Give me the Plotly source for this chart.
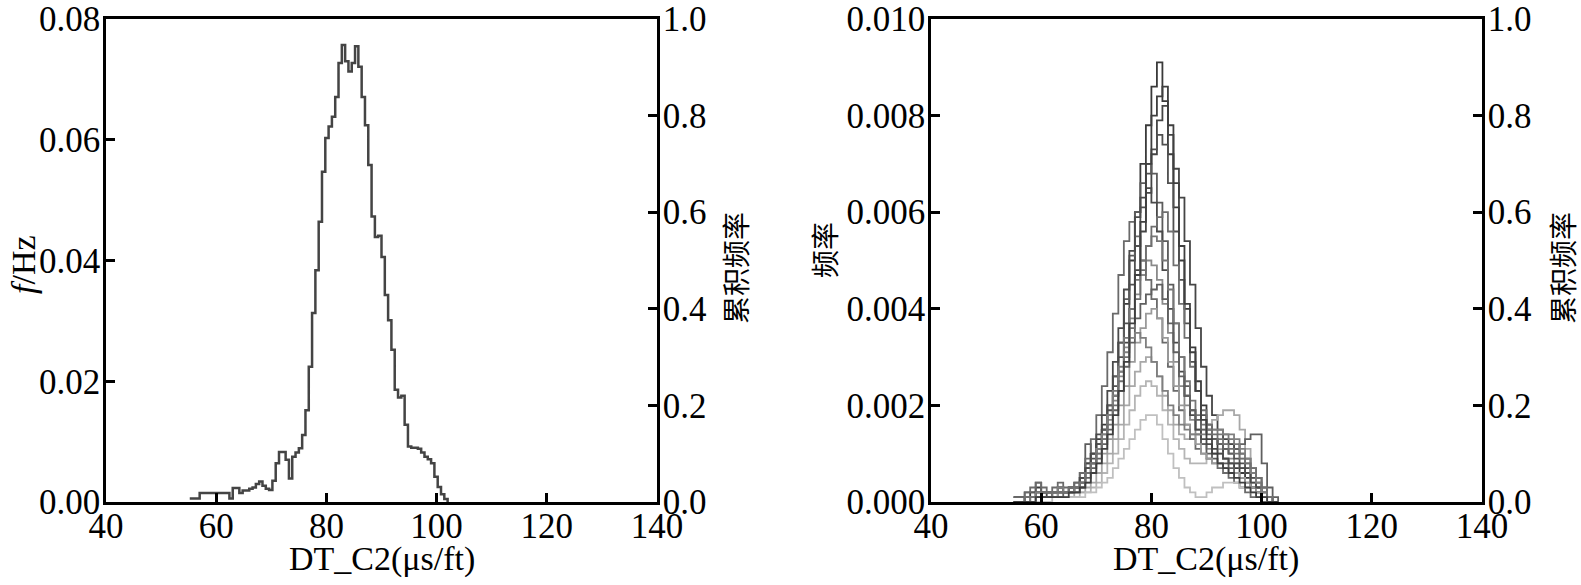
import plotly.graph_objects as go

# left panel: single step histogram (bin left edges, frequency)
left_bins = [55.2, 55.8, 56.4, 57.0, 57.6, 58.2, 58.8, 59.4, 60.0, 60.6,
             61.2, 61.8, 62.4, 63.0, 63.6, 64.2, 64.8, 65.4, 66.0, 66.6,
             67.2, 67.8, 68.4, 69.0, 69.6, 70.2, 70.8, 71.4, 72.0, 72.6,
             73.2, 73.8, 74.4, 75.0, 75.6, 76.2, 76.8, 77.4, 78.0, 78.6,
             79.2, 79.8, 80.4, 81.0, 81.6, 82.2, 82.8, 83.4, 84.0, 84.6,
             85.2, 85.8, 86.4, 87.0, 87.6, 88.2, 88.8, 89.4, 90.0, 90.6,
             91.2, 91.8, 92.4, 93.0, 93.6, 94.2, 94.8, 95.4, 96.0, 96.6,
             97.2, 97.8, 98.4, 99.0, 99.6, 100.2, 100.8, 101.4, 102.0]
left_freq = [0.0006, 0.0006, 0.0006, 0.0015, 0.0015, 0.0015, 0.0015, 0.0015, 0.0015, 0.0015,
             0.0015, 0.0015, 0.0006, 0.0023, 0.0023, 0.0015, 0.0019, 0.0019, 0.0022, 0.0024,
             0.0030, 0.0034, 0.0027, 0.0022, 0.0020, 0.0035, 0.0064, 0.0083, 0.0083, 0.0070,
             0.0039, 0.0075, 0.0082, 0.0089, 0.0111, 0.0152, 0.0224, 0.0313, 0.0384, 0.0464,
             0.0547, 0.0603, 0.0622, 0.0638, 0.0671, 0.0727, 0.0757, 0.0730, 0.0713, 0.0727,
             0.0755, 0.0721, 0.0671, 0.0624, 0.0558, 0.0473, 0.0439, 0.0441, 0.0406, 0.0343,
             0.0301, 0.0252, 0.0186, 0.0173, 0.0176, 0.0128, 0.0092, 0.0090, 0.0090, 0.0088,
             0.0082, 0.0075, 0.0071, 0.0064, 0.0042, 0.0025, 0.0013, 0.0005, 0.0]

# right panel: many wells, bins of 1 us/ft starting at 55; values in units of 1e-3
right_bins = [55, 56, 57, 58, 59, 60, 61, 62, 63, 64, 65, 66, 67, 68, 69, 70, 71,
              72, 73, 74, 75, 76, 77, 78, 79, 80, 81, 82, 83, 84, 85, 86, 87, 88,
              89, 90, 91, 92, 93, 94, 95, 96, 97, 98, 99, 100, 101, 102, 103]
wells = [
    ("#3a3a3a", [0.1, 0.1, 0.1, 0.2, 0.3, 0.2, 0.2, 0.2, 0.3, 0.2, 0.2, 0.3, 0.5, 0.8, 1.0, 1.3, 1.6, 2.0, 2.6, 3.3,
                 4.1, 5.0, 6.0, 7.0, 7.8, 8.6, 9.1, 8.3, 7.2, 6.1, 5.0, 4.0, 3.2, 2.5, 2.0, 1.6, 1.3, 1.1, 0.9, 0.8,
                 0.7, 0.6, 0.5, 0.3, 0.2, 0.1, 0, 0, 0]),
    ("#b5b5b5", [0, 0, 0, 0, 0, 0.1, 0.1, 0.1, 0.1, 0.1, 0.1, 0.1, 0.2, 0.2, 0.3, 0.4, 0.6, 0.8, 1.0, 1.3,
                 1.6, 1.9, 2.2, 2.4, 2.5, 2.4, 2.2, 1.9, 1.6, 1.3, 1.1, 0.9, 0.8, 0.8, 0.8, 0.9, 1.0, 1.1, 1.2, 1.2,
                 1.1, 0.9, 0.7, 0.5, 0.3, 0.1, 0, 0, 0]),
    ("#454545", [0, 0, 0.1, 0.1, 0.2, 0.2, 0.1, 0.2, 0.2, 0.2, 0.3, 0.4, 0.6, 0.8, 1.0, 1.2, 1.5, 1.8, 2.2, 2.7,
                 3.3, 4.0, 4.8, 5.6, 6.4, 7.2, 7.9, 8.2, 7.6, 6.9, 6.3, 5.4, 4.5, 3.6, 2.8, 2.2, 1.8, 1.5, 1.3, 1.2,
                 1.1, 1.0, 0.9, 0.7, 0.5, 0.3, 0.1, 0, 0]),
    ("#8a8a8a", [0, 0, 0.1, 0.1, 0.2, 0.2, 0.2, 0.2, 0.2, 0.2, 0.3, 0.3, 0.4, 0.6, 0.8, 1.0, 1.3, 1.7, 2.1, 2.6,
                 3.2, 3.8, 4.3, 4.7, 5.0, 4.9, 4.6, 4.1, 3.5, 2.9, 2.4, 2.0, 1.7, 1.4, 1.2, 1.1, 1.0, 1.0, 0.9, 0.9,
                 0.8, 0.7, 0.6, 0.4, 0.3, 0.1, 0, 0, 0]),
    ("#505050", [0, 0, 0, 0.1, 0.1, 0.2, 0.2, 0.1, 0.2, 0.2, 0.3, 0.3, 0.5, 0.7, 0.9, 1.2, 1.5, 1.9, 2.4, 3.0,
                 3.7, 4.5, 5.3, 6.1, 6.8, 7.3, 7.6, 7.4, 6.6, 5.6, 4.6, 3.7, 2.9, 2.3, 1.8, 1.5, 1.3, 1.2, 1.1, 1.0,
                 0.9, 0.8, 0.7, 0.5, 0.3, 0.2, 0.1, 0, 0]),
    ("#a8a8a8", [0, 0, 0, 0, 0.1, 0.1, 0.1, 0.1, 0.1, 0.1, 0.1, 0.2, 0.2, 0.3, 0.4, 0.6, 0.8, 1.0, 1.3, 1.6,
                 2.0, 2.4, 2.7, 2.9, 3.0, 2.9, 2.6, 2.2, 1.9, 1.6, 1.4, 1.3, 1.3, 1.4, 1.5, 1.6, 1.7, 1.8, 1.9, 1.9,
                 1.8, 1.5, 1.1, 0.7, 0.4, 0.2, 0.1, 0, 0]),
    ("#5c5c5c", [0.1, 0.1, 0.2, 0.2, 0.4, 0.2, 0.2, 0.2, 0.3, 0.2, 0.2, 0.3, 0.4, 1.2, 0.8, 1.1, 1.5, 2.0, 2.6, 3.3,
                 4.2, 5.1, 6.0, 6.6, 7.0, 6.8, 6.2, 5.4, 4.5, 3.7, 3.0, 2.4, 1.9, 1.5, 1.2, 1.0, 0.9, 0.8, 0.8, 0.7,
                 0.6, 0.5, 0.4, 0.3, 0.2, 0.1, 0, 0, 0]),
    ("#6a6a6a", [0.1, 0.1, 0.2, 0.3, 0.4, 0.3, 0.2, 0.3, 0.4, 0.3, 0.3, 0.4, 0.6, 0.9, 1.3, 1.8, 2.4, 3.1, 3.9, 4.7,
                 5.4, 5.8, 5.5, 5.0, 4.6, 4.2, 3.8, 3.3, 2.8, 2.3, 1.9, 1.6, 1.3, 1.1, 1.0, 0.9, 0.8, 0.7, 0.6, 0.5,
                 0.4, 0.3, 0.2, 0.1, 0.1, 0, 0, 0, 0]),
    ("#9a9a9a", [0, 0, 0, 0.1, 0.1, 0.1, 0.1, 0.1, 0.2, 0.2, 0.2, 0.2, 0.3, 0.4, 0.6, 0.8, 1.0, 1.3, 1.6, 2.0,
                 2.4, 2.9, 3.3, 3.6, 3.9, 4.0, 3.8, 3.4, 2.9, 2.4, 2.0, 1.6, 1.4, 1.2, 1.0, 0.9, 0.8, 0.8, 0.7, 0.6,
                 0.6, 0.5, 0.4, 0.3, 0.2, 0.1, 0, 0, 0]),
    ("#4a4a4a", [0, 0, 0.1, 0.1, 0.2, 0.2, 0.2, 0.2, 0.2, 0.2, 0.2, 0.3, 0.5, 0.7, 1.0, 1.4, 1.8, 2.3, 2.9, 3.6,
                 4.4, 5.2, 5.9, 6.3, 6.5, 6.2, 5.6, 4.8, 4.0, 3.3, 2.7, 2.2, 1.8, 1.5, 1.3, 1.2, 1.1, 1.0, 0.9, 0.8,
                 0.8, 0.7, 0.6, 0.4, 0.3, 0.1, 0, 0, 0]),
    ("#c0c0c0", [0, 0, 0, 0, 0, 0, 0, 0.1, 0.1, 0.1, 0.1, 0.1, 0.1, 0.2, 0.2, 0.3, 0.4, 0.5, 0.7, 0.9,
                 1.1, 1.3, 1.5, 1.7, 1.8, 1.8, 1.6, 1.3, 1.0, 0.7, 0.5, 0.3, 0.2, 0.1, 0.1, 0.2, 0.3, 0.3, 0.4, 0.4,
                 0.4, 0.3, 0.3, 0.2, 0.1, 0.1, 0, 0, 0]),
    ("#777777", [0, 0, 0, 0.1, 0.1, 0.1, 0.1, 0.2, 0.2, 0.2, 0.2, 0.3, 0.4, 0.6, 0.8, 1.1, 1.4, 1.8, 2.3, 2.8,
                 3.4, 4.0, 4.6, 5.0, 5.3, 5.5, 5.4, 5.0, 4.4, 3.7, 3.0, 2.5, 2.1, 1.8, 1.6, 1.5, 1.5, 1.4, 1.4, 1.3,
                 1.2, 1.0, 0.8, 0.6, 0.4, 0.2, 0.1, 0, 0]),
    ("#606060", [0, 0, 0, 0, 0.1, 0.1, 0.1, 0.1, 0.1, 0.2, 0.2, 0.2, 0.3, 0.5, 0.7, 0.9, 1.2, 1.5, 1.9, 2.3,
                 2.8, 3.3, 3.8, 4.1, 4.3, 4.4, 4.5, 4.2, 3.7, 3.1, 2.6, 2.2, 1.9, 1.7, 1.5, 1.4, 1.3, 1.2, 1.1, 1.0,
                 1.1, 1.2, 1.3, 1.4, 1.4, 0.8, 0.3, 0.1, 0]),
    ("#7f7f7f", [0, 0, 0.1, 0.1, 0.2, 0.2, 0.2, 0.2, 0.3, 0.2, 0.2, 0.3, 0.4, 0.6, 0.8, 1.1, 1.4, 1.8, 2.2, 2.7,
                 3.1, 3.4, 3.5, 3.4, 3.2, 2.9, 2.6, 2.3, 2.0, 1.8, 1.6, 1.5, 1.4, 1.4, 1.4, 1.5, 1.5, 1.5, 1.4, 1.4,
                 1.3, 1.1, 0.9, 0.6, 0.4, 0.2, 0.1, 0, 0]),
    ("#707070", [0, 0, 0.1, 0.1, 0.1, 0.2, 0.2, 0.2, 0.2, 0.2, 0.3, 0.3, 0.4, 0.6, 0.8, 1.0, 1.3, 1.6, 2.0, 2.5,
                 3.0, 3.6, 4.2, 4.8, 5.3, 5.7, 5.9, 6.0, 5.6, 4.9, 4.1, 3.4, 2.8, 2.3, 1.9, 1.6, 1.4, 1.3, 1.2, 1.1,
                 1.0, 0.9, 0.8, 0.7, 0.5, 0.3, 0.1, 0, 0]),
    ("#3f3f3f", [0, 0, 0, 0, 0.1, 0.1, 0.1, 0.1, 0.1, 0.1, 0.2, 0.2, 0.3, 0.4, 0.6, 0.8, 1.1, 1.4, 1.8, 2.3,
                 2.9, 3.7, 4.7, 5.8, 7.0, 8.0, 8.4, 8.6, 7.8, 6.6, 5.3, 4.1, 3.1, 2.3, 1.7, 1.3, 1.0, 0.8, 0.7, 0.6,
                 0.5, 0.4, 0.3, 0.2, 0.1, 0.1, 0, 0, 0]),
]

x_ticks = [40, 60, 80, 100, 120, 140]
x_title = "DT_C2(μs/ft)"

SERIF = "Liberation Serif, Times New Roman, serif"
CJK = "Noto Sans CJK SC"
FS = 35

fig = go.Figure()

fig.add_trace(go.Scatter(x=left_bins, y=left_freq, mode="lines", line_shape="hv",
                         line=dict(color="#444444", width=2.5), xaxis="x", yaxis="y",
                         showlegend=False))
fig.add_trace(go.Scatter(x=[None], y=[None], xaxis="x", yaxis="y2", showlegend=False))

for color, vals in wells:
    fig.add_trace(go.Scatter(x=right_bins[:len(vals)], y=[v / 1000 for v in vals],
                             mode="lines", line_shape="hv",
                             line=dict(color=color, width=1.8),
                             xaxis="x2", yaxis="y3", showlegend=False))
fig.add_trace(go.Scatter(x=[None], y=[None], xaxis="x2", yaxis="y4", showlegend=False))

ydom = [83 / 585, 566 / 585]
dom_l = [106 / 1581, 657 / 1581]
dom_r = [931 / 1581, 1482 / 1581]

common_x = dict(range=[40, 140], tickvals=x_ticks, ticks="inside", ticklen=9, tickwidth=2.5,
                tickcolor="black", showline=True, linecolor="black", linewidth=2.5,
                mirror=True, showgrid=False, zeroline=False, automargin=False,
                ticklabelstandoff=-9,
                tickfont=dict(family=SERIF, size=FS, color="black"))
common_y = dict(ticks="inside", ticklen=9, tickwidth=2.5, tickcolor="black", showline=True,
                linecolor="black", linewidth=2.5, showgrid=False, zeroline=False,
                automargin=False, domain=ydom, ticklabelstandoff=-4,
                tickfont=dict(family=SERIF, size=FS, color="black"))

fig.update_layout(
    width=1581, height=585,
    margin=dict(l=0, r=0, t=0, b=0, autoexpand=False),
    paper_bgcolor="white", plot_bgcolor="white",
    xaxis=dict(domain=dom_l, anchor="y", **common_x),
    yaxis=dict(anchor="x", range=[0, 0.08], tickvals=[0, 0.02, 0.04, 0.06, 0.08],
               tickformat=".2f", **common_y),
    yaxis2=dict(anchor="x", overlaying="y", side="right", range=[0, 1],
                tickvals=[0, 0.2, 0.4, 0.6, 0.8, 1.0], tickformat=".1f", **common_y),
    xaxis2=dict(domain=dom_r, anchor="y3", **common_x),
    yaxis3=dict(anchor="x2", range=[0, 0.01], tickvals=[0, 0.002, 0.004, 0.006, 0.008, 0.010],
                tickformat=".3f", **common_y),
    yaxis4=dict(anchor="x2", overlaying="y3", side="right", range=[0, 1],
                tickvals=[0, 0.2, 0.4, 0.6, 0.8, 1.0], tickformat=".1f", **common_y),
)

def label(text, x, y, angle=0, font=SERIF, size=FS):
    fig.add_annotation(text=text, x=x / 1581, y=1 - y / 585, xref="paper", yref="paper",
                       showarrow=False, textangle=angle, xanchor="center", yanchor="middle",
                       font=dict(family=font, size=size, color="black"))

label(x_title, 382, 559, size=34)
label(x_title, 1206, 559, size=34)
label("<i>f</i>/Hz", 24, 265, angle=-90, size=34)
label("累积频率", 735, 268, angle=-90, font=CJK, size=28)
label("频率", 824, 250, angle=-90, font=CJK, size=28)
label("累积频率", 1562, 268, angle=-90, font=CJK, size=28)

fig.write_html("out.html", config={"displayModeBar": False},
               post_script="document.body.style.margin='0';")
